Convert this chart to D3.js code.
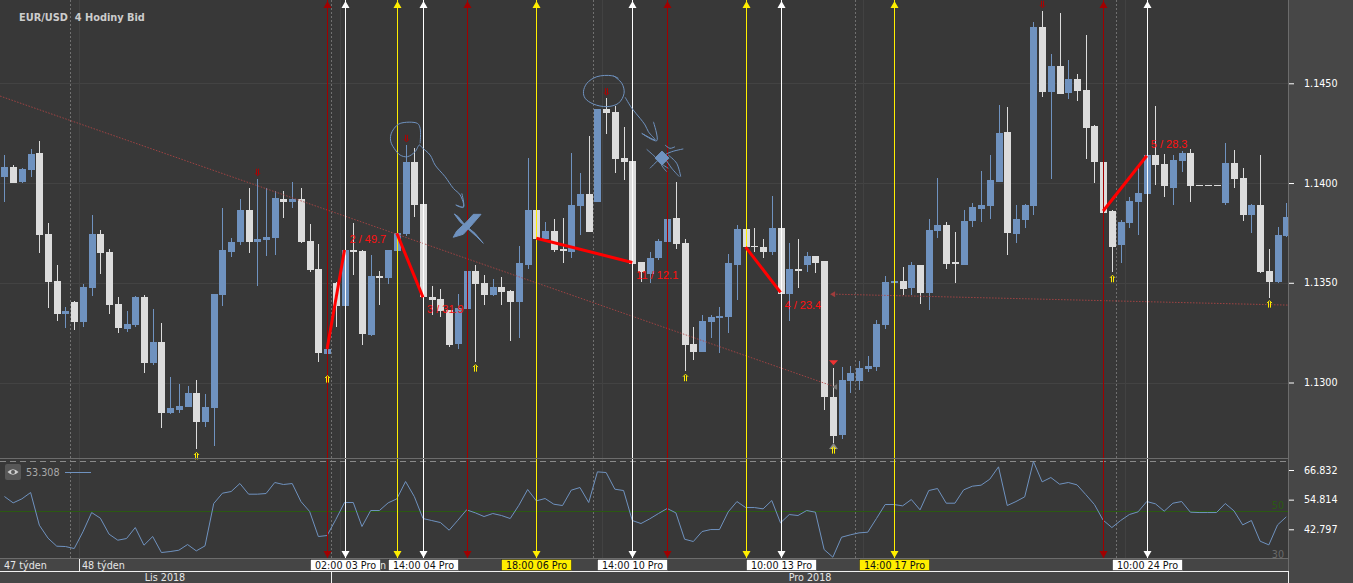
<!DOCTYPE html>
<html><head><meta charset="utf-8">
<script src="https://cdn.jsdelivr.net/npm/d3@7"></script>
<style>html,body{margin:0;padding:0;background:#383838;overflow:hidden}svg{display:block}text{font-family:"DejaVu Sans",sans-serif}</style>
</head><body><div id="c"></div>
<script>
const open=[1.14032,1.14080,1.14005,1.14065,1.14151,1.13744,1.13509,1.13343,1.13403,1.13303,1.13473,1.13744,1.13654,1.13393,1.13268,1.13288,1.13428,1.13097,1.13203,1.12846,1.12862,1.12877,1.12947,1.12801,1.12872,1.13438,1.13654,1.13704,1.13865,1.13704,1.13714,1.13724,1.13920,1.13905,1.13920,1.13709,1.13569,1.13142,1.13497,1.13383,1.13664,1.13659,1.13238,1.13534,1.13524,1.13659,1.13744,1.14106,1.13895,1.13428,1.13418,1.13363,1.13193,1.13368,1.13559,1.13499,1.13438,1.13479,1.13458,1.13403,1.13589,1.13865,1.13719,1.13759,1.13669,1.13654,1.13885,1.13945,1.13905,1.14371,1.14356,1.14126,1.14111,1.13604,1.13544,1.13624,1.13704,1.13825,1.13699,1.13193,1.13152,1.13303,1.13323,1.13328,1.13589,1.13769,1.13684,1.13679,1.13654,1.13774,1.13443,1.13569,1.13589,1.13634,1.13609,1.12927,1.12736,1.13007,1.13007,1.13067,1.13077,1.13288,1.13499,1.13509,1.13473,1.13589,1.13448,1.13759,1.13789,1.13604,1.13589,1.13810,1.13870,1.13885,1.14007,1.14256,1.13744,1.13814,1.13885,1.14783,1.14457,1.14587,1.14452,1.14522,1.14467,1.14286,1.14105,1.13860,1.13689,1.13799,1.13905,1.13945,1.14141,1.14095,1.13975,1.14110,1.14151,1.13988,1.13988,1.13988,1.13900,1.14100,1.14025,1.13840,1.13890,1.13559,1.13504,1.13734];
const high=[1.14141,1.14090,1.14075,1.14171,1.14211,1.13800,1.13589,1.13378,1.13407,1.13494,1.13840,1.13764,1.13667,1.13428,1.13358,1.13433,1.13438,1.13368,1.13298,1.13027,1.12992,1.12982,1.13012,1.12942,1.13443,1.13875,1.13724,1.13920,1.13975,1.14020,1.13975,1.13960,1.13960,1.14005,1.13975,1.13795,1.13694,1.13168,1.13504,1.13664,1.13798,1.13664,1.13639,1.13559,1.13664,1.13748,1.14191,1.14176,1.13895,1.13484,1.13468,1.13363,1.13443,1.13559,1.13589,1.13539,1.13519,1.13529,1.13463,1.13684,1.14126,1.13865,1.13805,1.13820,1.13825,1.14151,1.14050,1.14236,1.14371,1.14427,1.14386,1.14281,1.14111,1.13604,1.13654,1.13719,1.13820,1.14005,1.13719,1.13278,1.13338,1.13338,1.13378,1.13644,1.13789,1.13769,1.13774,1.13719,1.13935,1.13774,1.13699,1.13719,1.13654,1.13634,1.13609,1.13072,1.13077,1.13082,1.13107,1.13132,1.13313,1.13534,1.13509,1.13579,1.13604,1.13589,1.13820,1.14025,1.13805,1.13754,1.13865,1.13900,1.14060,1.14141,1.14391,1.14381,1.13890,1.13895,1.14808,1.14863,1.14647,1.14853,1.14617,1.14547,1.14742,1.14291,1.14105,1.13865,1.13814,1.13930,1.14074,1.14141,1.14386,1.14146,1.14141,1.14161,1.14171,1.13988,1.13988,1.13988,1.14201,1.14166,1.14075,1.13895,1.14141,1.13669,1.13779,1.13900];
const low=[1.13907,1.14002,1.14002,1.14032,1.13651,1.13375,1.13310,1.13275,1.13264,1.13280,1.13435,1.13544,1.13345,1.13249,1.13254,1.13280,1.13049,1.13087,1.12773,1.12843,1.12848,1.12877,1.12668,1.12778,1.12683,1.13385,1.13631,1.13691,1.13651,1.13485,1.13636,1.13641,1.13825,1.13875,1.13701,1.13554,1.13104,1.13142,1.13280,1.13383,1.13539,1.13188,1.13233,1.13388,1.13494,1.13659,1.13734,1.13830,1.13422,1.13338,1.13330,1.13179,1.13168,1.13368,1.13104,1.13388,1.13433,1.13388,1.13208,1.13223,1.13569,1.13719,1.13719,1.13654,1.13599,1.13624,1.13739,1.13754,1.13905,1.14246,1.14050,1.14015,1.13589,1.13504,1.13499,1.13614,1.13704,1.13671,1.13057,1.13112,1.13152,1.13223,1.13147,1.13248,1.13413,1.13679,1.13654,1.13624,1.13639,1.13443,1.13308,1.13473,1.13554,1.13549,1.12862,1.12696,1.12716,1.12947,1.12962,1.13052,1.13057,1.13268,1.13499,1.13438,1.13438,1.13393,1.13363,1.13724,1.13569,1.13499,1.13589,1.13779,1.13805,1.13820,1.14007,1.13639,1.13699,1.13774,1.13840,1.14431,1.14020,1.14446,1.14421,1.14411,1.14120,1.14000,1.13850,1.13554,1.13599,1.13774,1.13739,1.13945,1.13990,1.13930,1.13890,1.14055,1.13905,1.13988,1.13988,1.13988,1.13890,1.13975,1.13809,1.13749,1.13549,1.13423,1.13499,1.13729];
const close=[1.14080,1.14002,1.14070,1.14146,1.13739,1.13504,1.13343,1.13358,1.13303,1.13478,1.13744,1.13649,1.13388,1.13273,1.13293,1.13428,1.13097,1.13203,1.12846,1.12872,1.12882,1.12947,1.12801,1.12877,1.13443,1.13664,1.13704,1.13865,1.13704,1.13719,1.13729,1.13925,1.13905,1.13920,1.13704,1.13564,1.13147,1.13168,1.13383,1.13664,1.13654,1.13243,1.13534,1.13524,1.13664,1.13748,1.14106,1.13890,1.13427,1.13413,1.13358,1.13188,1.13373,1.13559,1.13494,1.13438,1.13479,1.13453,1.13403,1.13599,1.13865,1.13719,1.13759,1.13664,1.13659,1.13890,1.13945,1.13754,1.14371,1.14351,1.14121,1.14106,1.13594,1.13554,1.13624,1.13709,1.13820,1.13694,1.13188,1.13152,1.13308,1.13328,1.13333,1.13599,1.13769,1.13679,1.13679,1.13654,1.13774,1.13443,1.13569,1.13559,1.13634,1.13599,1.12927,1.12731,1.13012,1.13047,1.13072,1.13082,1.13293,1.13504,1.13509,1.13468,1.13589,1.13448,1.13764,1.13789,1.13594,1.13594,1.13810,1.13880,1.13890,1.14015,1.14251,1.13749,1.13820,1.13890,1.14783,1.14457,1.14587,1.14446,1.14522,1.14462,1.14276,1.14105,1.13850,1.13679,1.13804,1.13910,1.13950,1.14141,1.14090,1.13985,1.14115,1.14151,1.13985,1.13988,1.13988,1.13988,1.14100,1.14020,1.13840,1.13890,1.13554,1.13504,1.13739,1.13830];
const rsi=[56.08,53.51,55.14,57.70,44.46,39.19,35.95,35.81,35.00,41.76,49.59,47.30,40.81,38.38,39.05,43.51,36.35,39.86,33.38,33.78,34.32,36.62,34.05,36.08,53.24,57.43,58.11,61.35,57.03,57.03,57.30,61.76,60.95,61.35,54.05,50.00,39.86,40.27,46.76,53.65,53.65,43.92,50.41,50.41,53.51,55.14,62.16,56.08,47.16,46.35,45.54,42.43,46.49,50.68,49.46,47.97,49.19,48.38,47.16,52.57,58.92,54.32,55.27,52.97,52.43,58.65,59.73,53.65,66.08,65.81,59.05,58.51,46.35,45.14,47.03,49.19,51.22,49.46,38.78,37.84,41.89,42.70,42.70,49.86,54.05,51.62,51.62,51.08,54.46,45.41,48.78,48.38,50.41,49.73,34.59,31.49,39.59,40.54,41.35,41.62,47.16,52.84,52.84,52.30,54.86,50.68,58.51,59.32,53.38,53.38,58.78,60.27,60.68,63.11,68.11,52.43,54.05,55.95,70.27,62.03,63.78,61.08,61.76,60.81,56.89,52.84,46.49,43.51,46.35,48.78,49.86,54.05,53.11,50.14,53.38,54.05,49.73,49.59,49.59,49.59,53.24,50.27,44.59,46.35,37.97,36.49,44.59,47.84];
const priceTicks=[1.1300,1.1350,1.1400,1.1450];
const rsiTicks=[42.797,54.814,66.832];
const rsiCurrent="53.308";
const title="EUR/USD  4 Hodiny Bid";
const weekBreaks=[7.5,37.5,67.5,97.5,127.5];
const weekLabels=["47 týden","48 týden"];
const monthLabels=["Lis 2018","Pro 2018"];
const monthBreak=37.5;
const redEvents=[37,53,76,126];
const whiteEvents=[39,48,72,89,131];
const yellowEvents=[45,61,85,102];
const dateLabels=[{t:"02:00 03 Pro",b:39,c:"w"},{t:"14:00 04 Pro",b:48,c:"w"},{t:"18:00 06 Pro",b:61,c:"y"},{t:"14:00 10 Pro",b:72,c:"w"},{t:"10:00 13 Pro",b:89,c:"w"},{t:"14:00 17 Pro",b:102,c:"y"},{t:"10:00 24 Pro",b:131,c:"w"}];
const swings=[{a:[37,1.13168],b:[39,1.13664],t:"2 / 49.7",dx:5,dy:-7},{a:[45,1.13748],b:[48,1.13427],t:"3 / 31.9",dx:4,dy:16},{a:[61,1.13723],b:[72,1.13602],t:"11 / 12.1",dx:4,dy:17},{a:[85,1.13679],b:[89,1.13452],t:"4 / 23.4",dx:4,dy:17},{a:[126,1.13860],b:[131,1.14137],t:"5 / 28.3",dx:4,dy:-8}];
const trendLines=[[[-0.5,1.14436],[95.26,1.12978]],[[95.03,1.13443],[147.2,1.13388]]];
const upMarks=[[22,1.12632],[37,1.13017],[54,1.13072],[78,1.13024],[95,1.12661],[127,1.13520],[145,1.13393]];
const downMarks=[[29,1.14054],[46,1.14224],[69,1.14458],[119,1.14896]];
const sketchStrokes=[
[[47.67,1.14199],[47.67,1.14274],[47.36,1.14299],[45.38,1.14299],[44.69,1.14274],[44.31,1.14241],[44.31,1.14207],[44.69,1.14174],[45.38,1.14140],[46.21,1.14132],[47.09,1.14157],[47.59,1.14191],[47.86,1.14179],[48.82,1.14140],[49.39,1.14090],[50.53,1.14032],[51.49,1.13973],[52.26,1.13940],[52.63,1.13881],[51.76,1.13890],[52.63,1.13878],[52.45,1.13948]],
[[70.41,1.14525],[69.65,1.14538],[67.93,1.14533],[66.79,1.14500],[66.40,1.14458],[66.59,1.14425],[67.54,1.14396],[69.08,1.14383],[70.41,1.14400],[71.06,1.14450],[70.80,1.14500],[69.84,1.14538]],
[[71.18,1.14430],[71.95,1.14375],[72.90,1.14324],[73.47,1.14291],[73.85,1.14257],[74.62,1.14216],[73.09,1.14249],[74.81,1.14212],[74.42,1.14307]],
[[73.65,1.14169],[74.6,1.14132],[75.56,1.14090],[76.13,1.14074]],
[[77.85,1.14171],[76.52,1.14157],[75.56,1.14137],[74.6,1.14099],[74.03,1.14074]],
[[75.75,1.14191],[76.32,1.14174],[76.9,1.14182]],
[[76.13,1.14140],[77.09,1.14099],[77.55,1.14032]],
[[75.75,1.14124],[76.52,1.14074],[77.39,1.14032]],
[[75.19,1.14149],[75.37,1.14090],[75.95,1.14057]]
];
const sketchFills=[
[[54.65,1.13843],[53.77,1.13843],[53.01,1.13806],[51.86,1.13759],[51.47,1.13728],[52.62,1.13743],[53.77,1.13798]],
[[51.59,1.13845],[52.24,1.13806],[53.19,1.13769],[54.16,1.13731],[54.91,1.13698],[53.96,1.13748],[52.82,1.13789],[52.05,1.13831]],
[[75.41,1.14160],[76.21,1.14125],[75.41,1.14090],[74.6,1.14125]]
];

const W=1353,H=583,plotR=1288;
const C={blue:"#6f92bf",white:"#dcdcdc",red:"#a00000",wline:"#ffffff",yellow:"#ffee00",sketch:"#6f92bf"};
const x=d3.scaleLinear().domain([0,147]).range([4.45,1286.29]);
const y=d3.scaleLinear().domain([1.13,1.145]).range([382.5,83.3]);
const yR=d3.scaleLinear().domain([42.797,66.832]).range([529.3,470]);
const px=i=>Math.round(x(i));
const svg=d3.select("#c").append("svg").attr("width",W).attr("height",H);
const defs=svg.append("defs");
defs.append("clipPath").attr("id","mainClip").append("rect").attr("x",0).attr("y",0).attr("width",plotR).attr("height",458);
defs.append("clipPath").attr("id","rsiClip").append("rect").attr("x",0).attr("y",459).attr("width",plotR).attr("height",99);
svg.append("rect").attr("width",W).attr("height",H).attr("fill","#383838");
svg.append("rect").attr("x",plotR).attr("width",W-plotR).attr("height",H).attr("fill","#474747");
svg.append("rect").attr("y",558).attr("width",plotR).attr("height",25).attr("fill","#454545");

// grid
const grid=svg.append("g");
grid.selectAll(".h").data(priceTicks).join("line").attr("x1",0).attr("x2",plotR).attr("y1",d=>Math.round(y(d))+.5).attr("y2",d=>Math.round(y(d))+.5).attr("stroke","#434343");
grid.selectAll(".f").data(weekBreaks).join("line").attr("x1",d=>px(d+1)+.5).attr("x2",d=>px(d+1)+.5).attr("y1",0).attr("y2",558).attr("stroke","#424242");
grid.selectAll(".d").data(weekBreaks).join("line").attr("x1",d=>Math.round(x(d))+.5).attr("x2",d=>Math.round(x(d))+.5).attr("y1",0).attr("y2",558).attr("stroke","#707070").attr("stroke-dasharray","2,2");

// candles
const bars=d3.range(open.length);
const g=svg.append("g").attr("clip-path","url(#mainClip)");
const col=i=>close[i]>open[i]?C.blue:C.white;
g.selectAll(".wick").data(bars).join("rect").attr("x",px).attr("width",1)
 .attr("y",i=>Math.round(y(high[i]))).attr("height",i=>Math.max(1,Math.round(y(low[i]))-Math.round(y(high[i])))).attr("fill",col);
g.selectAll(".body").data(bars).join("rect").attr("x",i=>px(i)-3).attr("width",7)
 .attr("y",i=>Math.round(y(Math.max(open[i],close[i])))).attr("height",i=>Math.max(1,Math.round(y(Math.min(open[i],close[i])))-Math.round(y(Math.max(open[i],close[i]))))).attr("fill",col);

// RSI pane
const rg=svg.append("g").attr("clip-path","url(#rsiClip)");
rg.append("line").attr("x1",0).attr("x2",plotR).attr("y1",yR(50)).attr("y2",yR(50)).attr("stroke","#2b5a12");
rg.append("line").attr("x1",0).attr("x2",plotR).attr("y1",461.5).attr("y2",461.5).attr("stroke","#8a8a8a").attr("stroke-dasharray","6,4");
rg.append("path").datum(rsi).attr("fill","none").attr("stroke",C.blue).attr("stroke-width",1)
 .attr("d",d3.line().x((d,i)=>x(i)).y(d=>yR(d)));

// trend lines
const pt=d=>[x(d[0]),y(d[1])];
const ln=d3.line().x(d=>x(d[0])).y(d=>y(d[1]));
const ov=svg.append("g").attr("clip-path","url(#mainClip)");
ov.selectAll(".tl").data(trendLines).join("path").attr("d",ln).attr("fill","none").attr("stroke","#b04444").attr("stroke-width",1).attr("stroke-dasharray","1.5,1.5").attr("opacity",.85);
const e1=pt(trendLines[0][1]), e2=pt(trendLines[1][0]);
ov.append("path").attr("d",`M${e1[0]-3},${e1[1]}L${e1[0]+2},${e1[1]-3}L${e1[0]+2},${e1[1]+3}Z`).attr("fill","#777");
ov.append("path").attr("d",`M${e2[0]-3},${e2[1]}L${e2[0]+2},${e2[1]-3}L${e2[0]+2},${e2[1]+3}Z`).attr("fill","#a03c3c");
ov.append("path").attr("d",`M${px(95)-4},${y(1.13112)}h9l-4.5,5Z`).attr("fill","#ee3333");
ov.append("path").attr("d",`M${px(95)-4},${y(1.12661)-1}h9l-4.5,-6Z`).attr("fill","#8a8a8a");

// event lines
const evts=[[redEvents,C.red],[whiteEvents,C.wline],[yellowEvents,C.yellow]];
const ev=svg.append("g");
evts.forEach(([arr,c])=>{
 ev.selectAll(null).data(arr).join("line").attr("x1",d=>px(d)+.5).attr("x2",d=>px(d)+.5).attr("y1",0).attr("y2",558).attr("stroke",c);
 ev.selectAll(null).data(arr).join("path").attr("d",d=>`M${px(d)+.5},1l4,7h-8Z`).attr("fill",c);
 ev.selectAll(null).data(arr).join("path").attr("d",d=>`M${px(d)+.5},558l4,-7h-8Z`).attr("fill",c);
});

// swings
const sw=svg.append("g");
sw.selectAll("path").data(swings).join("path").attr("d",d=>ln([d.a,d.b])).attr("stroke","#ff0000").attr("stroke-width",3).attr("fill","none");
sw.selectAll("text").data(swings).join("text").attr("x",d=>x(d.b[0])+d.dx).attr("y",d=>y(d.b[1])+d.dy)
 .text(d=>d.t).attr("fill","#ff1010").style("font-family","'Liberation Sans'").style("font-size","11px");

// double arrows
const dbl=(sel,data,c,up)=>sel.selectAll(null).data(data).join("path")
 .attr("transform",d=>`translate(${px(d[0])+.5},${y(d[1])}) scale(1,${up?1:-1})`)
 .attr("d","M-2.5,-1L0,-3.5L2.5,-1M-1,-2V3.5M1,-2V3.5").attr("fill","none").attr("stroke",c).attr("stroke-width",1);
const ar=svg.append("g");
dbl(ar,upMarks,C.yellow,true);
dbl(ar,downMarks,"#b00000",false);

// sketches
const sk=svg.append("g").attr("fill","none").attr("stroke",C.sketch);
sk.selectAll(".s").data(sketchStrokes).join("path").attr("d",d3.line().x(d=>x(d[0])).y(d=>y(d[1])).curve(d3.curveCatmullRom)).attr("stroke-width",1);
sk.selectAll(".x").data(sketchFills).join("path").attr("d",d=>ln(d)+"Z").attr("fill",C.sketch).attr("stroke-width",1);

// separators
const sep=svg.append("g");
sep.append("line").attr("x1",0).attr("x2",plotR).attr("y1",458.5).attr("y2",458.5).attr("stroke","#6c6c6c");
sep.append("line").attr("x1",0).attr("x2",plotR).attr("y1",558.5).attr("y2",558.5).attr("stroke","#6c6c6c");
sep.append("line").attr("x1",0).attr("x2",plotR).attr("y1",571.5).attr("y2",571.5).attr("stroke","#f0f0f0");
sep.append("line").attr("x1",plotR+.5).attr("x2",plotR+.5).attr("y1",0).attr("y2",571).attr("stroke","#6c6c6c");
sep.append("line").attr("x1",plotR+.5).attr("x2",plotR+.5).attr("y1",571).attr("y2",583).attr("stroke","#f0f0f0");
sep.append("line").attr("x1",Math.round(x(monthBreak))+.5).attr("x2",Math.round(x(monthBreak))+.5).attr("y1",571).attr("y2",583).attr("stroke","#f0f0f0");
sep.append("line").attr("x1",px(8.5)+.5).attr("x2",px(8.5)+.5).attr("y1",559).attr("y2",571).attr("stroke","#f0f0f0");

// axes
const fs="9.6px";
const axP=svg.append("g").attr("transform",`translate(${plotR+1},0)`)
 .call(d3.axisRight(y).tickValues(priceTicks).tickFormat(d3.format(".4f")).tickSize(5).tickPadding(10));
const axR=svg.append("g").attr("transform",`translate(${plotR+1},0)`)
 .call(d3.axisRight(yR).tickValues(rsiTicks).tickFormat(d3.format(".3f")).tickSize(5).tickPadding(10));
[axP,axR].forEach(a=>{a.select(".domain").remove();a.selectAll("line").attr("stroke","#fff");a.selectAll("text").attr("fill","#fff").style("font-family","'DejaVu Sans'").style("font-size",fs);});

// text
const T=(s,xx,yy,c,a)=>svg.append("text").attr("x",xx).attr("y",yy).attr("fill",c).attr("text-anchor",a||"start").style("font-size",fs).style("white-space","pre").text(s);
T(title,19,20.5,"#cccccc").style("font-weight","bold").style("font-size","9.8px");
T(rsiCurrent,26,475.5,"#aaaaaa");
svg.append("line").attr("x1",65).attr("x2",91).attr("y1",472.5).attr("y2",472.5).attr("stroke",C.blue);
svg.append("rect").attr("x",5).attr("y",464).attr("width",16).attr("height",16).attr("rx",2).attr("fill","#575757");
svg.append("path").attr("d","M7.5,472Q13,466.5 18.5,472Q13,477.5 7.5,472Z").attr("fill","#cfcfcf");
svg.append("circle").attr("cx",13).attr("cy",472).attr("r",2).attr("fill","#575757");
T("50",1284,508.5,"#2b5a12","end");
T("30",1284,558,"#6a6a6a","end");
T(weekLabels[0],4,568.5,"#e6e6e6");
T(weekLabels[1],82,568.5,"#e6e6e6");
T(monthLabels[0],165,581,"#e6e6e6","middle");
T(monthLabels[1],810,581,"#e6e6e6","middle");
T("n",383,568.5,"#e6e6e6","middle");
dateLabels.forEach(d=>{
 const cx=px(d.b)+.5;
 svg.append("rect").attr("x",cx-35).attr("y",559.5).attr("width",70).attr("height",11).attr("fill",d.c==="y"?"#ffee00":"#fff").attr("stroke","#222").attr("stroke-width",.5);
 T(d.t,cx,568.5,"#111","middle");
});
</script></body></html>
